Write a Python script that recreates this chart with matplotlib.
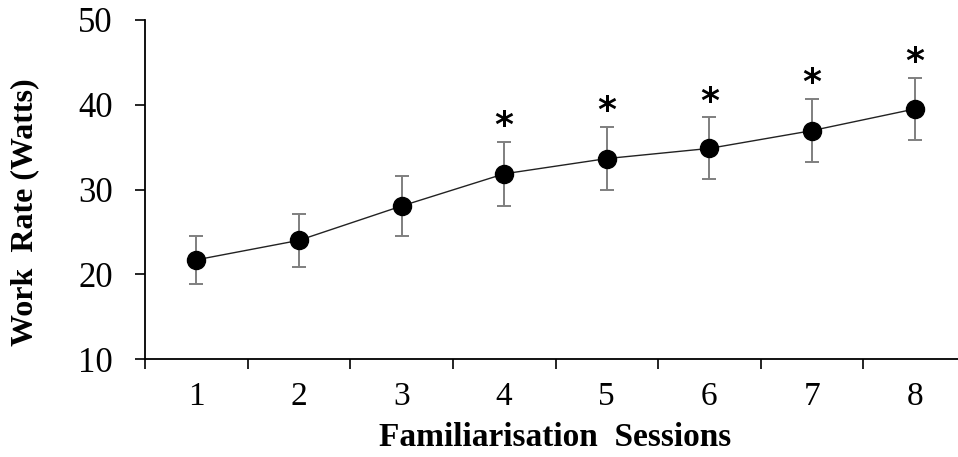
import numpy as np
import matplotlib.pyplot as plt

# Data
sessions = [1, 2, 3, 4, 5, 6, 7, 8]
work_rate = [21.7, 24.0, 28.05, 31.85, 33.65, 34.85, 36.95, 39.5]
sd = [2.8, 3.1, 3.5, 3.75, 3.75, 3.65, 3.75, 3.7]
significant = [False, False, False, True, True, True, True, True]

plt.rcParams['font.family'] = ['Liberation Serif', 'DejaVu Serif']

fig = plt.figure(figsize=(9.58, 4.57), dpi=100)
ax = fig.add_axes([145 / 958, 1 - 359 / 457, 821 / 958, 339 / 457])

ax.plot(sessions, work_rate, color='#222222', lw=1.0, zorder=2)
ax.errorbar(sessions, work_rate, yerr=sd, fmt='none', ecolor='#7f7f7f',
            elinewidth=1.4, capsize=5, capthick=1.4, zorder=1)
ax.plot(sessions, work_rate, 'o', color='black', ms=13, zorder=3)

# asterisks above significant sessions
for x, y, e, s in zip(sessions, work_rate, sd, significant):
    if s:
        ax.annotate('*', (x, y + e), xytext=(0, -1), textcoords='offset points',
                    ha='center', va='bottom', fontsize=26, fontweight='bold',
                    family=['DejaVu Sans'])

ax.set_xlim(0.5, 8.5)
ax.set_ylim(10, 50)
ax.set_yticks([10, 20, 30, 40, 50])
ax.set_xticks(np.arange(0.5, 9, 1))
ax.set_xticklabels([])
ax.set_xticks(sessions, minor=True)
ax.set_xticklabels([str(s) for s in sessions], minor=True)

for side in ['top', 'right']:
    ax.spines[side].set_visible(False)
for side in ['left', 'bottom']:
    ax.spines[side].set_linewidth(1.3)

ax.tick_params(axis='y', direction='out', length=7, width=1.2, pad=16, labelsize=25)
ax.tick_params(axis='x', which='major', direction='out', length=7, width=1.2)
ax.tick_params(axis='x', which='minor', length=0, pad=16, labelsize=24)

ax.set_ylabel('Work  Rate (Watts)', fontsize=23, fontweight='bold', va='center')
ax.yaxis.set_label_coords(-0.146, 0.434)
ax.set_xlabel('Familiarisation  Sessions', fontsize=24, fontweight='bold', va='center')
ax.xaxis.set_label_coords(0.4994, -0.233)

fig.savefig('out.png', dpi=100)
